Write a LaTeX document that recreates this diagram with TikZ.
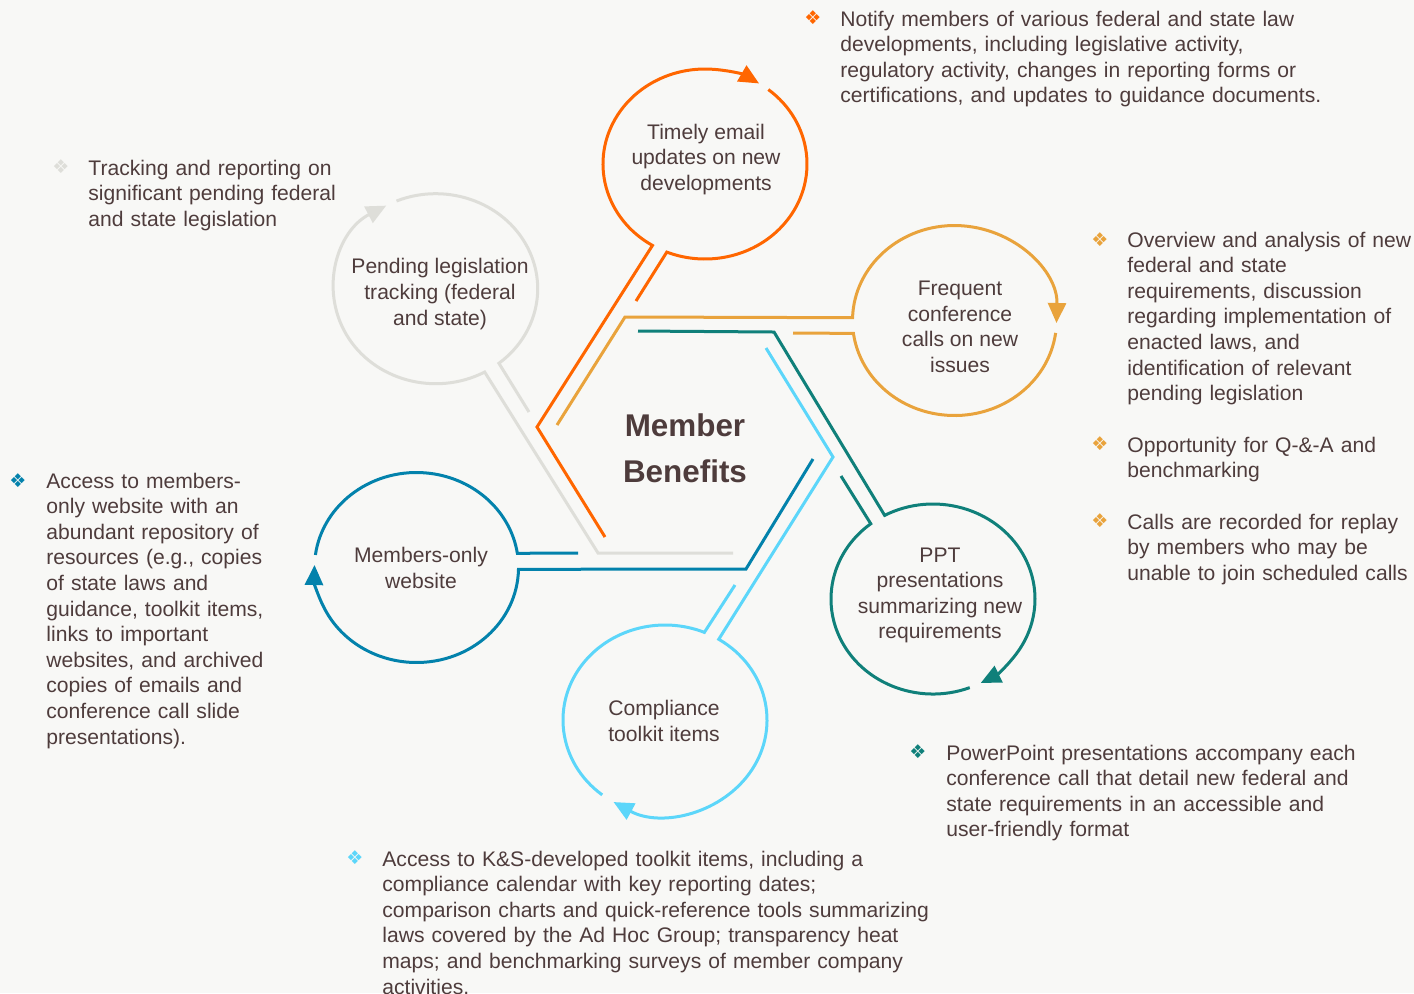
\documentclass[tikz,border=0pt]{standalone}
\usepackage{fontspec}
\setmainfont{Liberation Sans}
\newfontfamily\dejavu{DejaVu Sans}
\usetikzlibrary{arrows.meta,calc}
\definecolor{cOr}{RGB}{255,102,0}
\definecolor{cGd}{RGB}{233,163,60}
\definecolor{cTl}{RGB}{16,128,122}
\definecolor{cCy}{RGB}{92,214,250}
\definecolor{cBl}{RGB}{3,130,172}
\definecolor{cGy}{RGB}{222,222,217}
\definecolor{cTx}{RGB}{78,60,60}
\definecolor{cBg}{RGB}{248,248,246}
\newcommand\bodyfont{\fontsize{10.55}{12.8}\selectfont}
\tikzset{
  ring/.style={line width=1.5pt, line join=miter},
  tipA/.style={-{Triangle[length=10pt,width=9pt]}},
  ctext/.style={align=center, inner sep=0pt, text=cTx, font=\bodyfont},
  btext/.style={anchor=base west, text width=#1, align=left, inner sep=0pt, text=cTx, font=\bodyfont},
  bul/.style={inner sep=0pt, text=#1, font=\dejavu\fontsize{9.5}{9.5}\selectfont},
}
\begin{document}
\begin{tikzpicture}[x=0.5pt,y=-0.5pt]
\useasboundingbox (0,0) rectangle (1414,993);
\fill[cBg] (0,0) rectangle (1414,993);

% ---------- orange ring
\coordinate (oc) at (705,164);
\coordinate (o1) at (605,537); \coordinate (o2) at (537,427); \coordinate (o3) at (636,301);
\draw[ring,cOr,tipA] (o1) -- (o2) -- ([shift={(121:102 and 95)}]oc) arc[start angle=121,end angle=302,x radius=102,y radius=95];
\draw[ring,cOr] ([shift={(308.4:102 and 95)}]oc) arc[start angle=308.4,end angle=472,x radius=102,y radius=95] -- (o3);

% ---------- gray ring
\coordinate (gc) at (435.7,288.7);
\coordinate (g1) at (733,553); \coordinate (g2) at (598,553); \coordinate (g3) at (529,412);
\draw[ring,cGy,tipA] (g1) -- (g2) -- ([shift={(61.3:102 and 95)}]gc) arc[start angle=61.3,end angle=241,x radius=102,y radius=95];
\draw[ring,cGy] ([shift={(247.4:102 and 95)}]gc) arc[start angle=247.4,end angle=411.7,x radius=102,y radius=95] -- (g3);

% ---------- gold ring
\coordinate (dc) at (954.5,320.5);
\coordinate (d1) at (557,425); \coordinate (d2) at (625,317); \coordinate (d3) at (793,333);
\draw[ring,cGd,tipA] (d1) -- (d2) -- ([shift={(181.7:102 and 95)}]dc) arc[start angle=181.7,end angle=361.5,x radius=102,y radius=95];
\draw[ring,cGd] ([shift={(367.5:102 and 95)}]dc) arc[start angle=367.5,end angle=532.2,x radius=102,y radius=95] -- (d3);

% ---------- teal ring
\coordinate (tc) at (933,599);
\coordinate (t1) at (638,331); \coordinate (t2) at (774,332); \coordinate (t3) at (841,476);
\draw[ring,cTl,tipA] (t1) -- (t2) -- ([shift={(241.7:102 and 95)}]tc) arc[start angle=241.7,end angle=422.1,x radius=102,y radius=95];
\draw[ring,cTl] ([shift={(68.9:102 and 95)}]tc) arc[start angle=68.9,end angle=232.4,x radius=102,y radius=95] -- (t3);

% ---------- cyan ring
\coordinate (yc) at (665,720);
\coordinate (y1) at (766,348); \coordinate (y2) at (833,457); \coordinate (y3) at (735,585);
\draw[ring,cCy,tipA] (y1) -- (y2) -- ([shift={(301.8:102 and 95)}]yc) arc[start angle=301.8,end angle=480.3,x radius=102,y radius=95];
\draw[ring,cCy] ([shift={(128:102 and 95)}]yc) arc[start angle=128,end angle=292.7,x radius=102,y radius=95] -- (y3);

% ---------- blue ring
\coordinate (bc) at (416.5,567.5);
\coordinate (b1) at (813,459); \coordinate (b2) at (746,569); \coordinate (b3) at (578,553);
\draw[ring,cBl,tipA] (b1) -- (b2) -- ([shift={(1.1:102 and 95)}]bc) arc[start angle=1.1,end angle=181.5,x radius=102,y radius=95];
\draw[ring,cBl] ([shift={(187.6:102 and 95)}]bc) arc[start angle=187.6,end angle=351.4,x radius=102,y radius=95] -- (b3);

% ---------- circle texts
\node[ctext] (ot) at (706,159.5) {Timely email\\updates on new\\developments};
\node[ctext] (gt) at (440,294) {Pending legislation\\tracking (federal\\and state)};
\node[ctext] (dt) at (960,327) {Frequent\\conference\\calls on new\\issues};
\node[ctext] (tt) at (940,595.5) {PPT\\presentations\\summarizing new\\requirements};
\node[ctext] (yt) at (664,721) {Compliance\\toolkit items};
\node[ctext] (bt) at (421,568) {Members-only\\website};
\node[align=center, inner sep=0pt, text=cTx, font=\fontsize{15.7}{23}\selectfont\bfseries] (mb) at (685,448) {Member\\Benefits};

% ---------- bullets
\node[bul=cOr] (ob) at (813,18) {❖};
\node[btext=300pt] (oB) at (840,26) {Notify members of various federal and state law\\developments, including legislative activity,\\regulatory activity, changes in reporting forms or\\certifications, and updates to guidance documents.};

\node[bul=cGy] (gb) at (61,167) {❖};
\node[btext=200pt] (gB) at (88,175) {Tracking and reporting on\\significant pending federal\\and state legislation};

\node[bul=cGd] (db1) at (1100,240) {❖};
\node[btext=200pt] (dB1) at (1127,247) {Overview and analysis of new\\federal and state\\requirements, discussion\\regarding implementation of\\enacted laws, and\\identification of relevant\\pending legislation};
\node[bul=cGd] (db2) at (1100,444) {❖};
\node[btext=200pt] (dB2) at (1127,452) {Opportunity for Q-\&-A and\\benchmarking};
\node[bul=cGd] (db3) at (1100,521) {❖};
\node[btext=200pt] (dB3) at (1127,529) {Calls are recorded for replay\\by members who may be\\unable to join scheduled calls};

\node[bul=cBl] (bb) at (18,481) {❖};
\node[btext=200pt] (bB) at (46,488) {Access to members-\\only website with an\\abundant repository of\\resources (e.g., copies\\of state laws and\\guidance, toolkit items,\\links to important\\websites, and archived\\copies of emails and\\conference call slide\\presentations).};

\node[bul=cTl] (tb) at (918,752) {❖};
\node[btext=300pt] (tB) at (946,760) {PowerPoint presentations accompany each\\conference call that detail new federal and\\state requirements in an accessible and\\user-friendly format};

\node[bul=cCy] (yb) at (355,858) {❖};
\node[btext=330pt] (yB) at (382,866) {Access to K\&S-developed toolkit items, including a\\compliance calendar with key reporting dates;\\comparison charts and quick-reference tools summarizing\\laws covered by the Ad Hoc Group; transparency heat\\maps; and benchmarking surveys of member company\\activities.};
\end{tikzpicture}
\end{document}
